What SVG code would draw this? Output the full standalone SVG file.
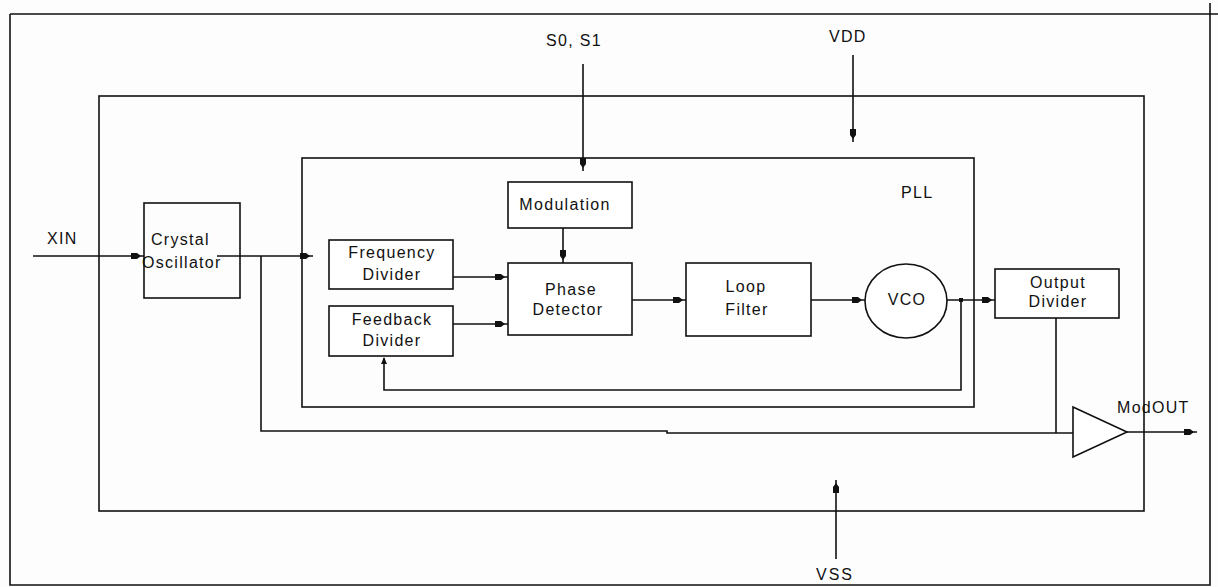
<svg xmlns="http://www.w3.org/2000/svg" width="1218" height="587" viewBox="0 0 1218 587">
<defs>
<style>
.ln{fill:none;stroke:#111;stroke-width:1.6}
.bx{fill:#fff;stroke:#111;stroke-width:1.6}
.t{font-family:"Liberation Sans",Arial,sans-serif;font-size:16px;fill:#111;letter-spacing:1.3px}
.m{text-anchor:middle}
</style>
<marker id="ah" markerWidth="16" markerHeight="8" refX="13" refY="4" orient="auto" markerUnits="userSpaceOnUse">
<path d="M0,1 L6,1 L10,4 L6,7 L0,7 Z" fill="#111"/>
</marker>
</defs>
<rect width="1218" height="587" fill="#fdfdfd"/>
<g id="frame">
<path class="ln" d="M10,14 H1218 M1210,3 V585 H10 V14"/>
</g>
<g id="chip"><rect class="ln" x="99" y="96" width="1045" height="415"/></g>
<g id="pll"><rect class="ln" x="302" y="158" width="672" height="249"/>
<text class="t" x="901" y="198">PLL</text></g>
<g id="connectors">
<path class="ln" marker-end="url(#ah)" d="M33,256 H144"/>
<path class="ln" marker-end="url(#ah)" d="M217,256 H313"/>
<path class="ln" d="M261,256 V431 H667 V433 H1073"/>
<path class="ln" marker-end="url(#ah)" d="M583,64 V171"/>
<path class="ln" marker-end="url(#ah)" d="M853,55 V142"/>
<path class="ln" marker-end="url(#ah)" d="M836,559 V480"/>
<path class="ln" marker-end="url(#ah)" d="M563,228 V263"/>
<path class="ln" marker-end="url(#ah)" d="M453,277 H508"/>
<path class="ln" marker-end="url(#ah)" d="M453,324 H508"/>
<path class="ln" marker-end="url(#ah)" d="M632,300 H686"/>
<path class="ln" marker-end="url(#ah)" d="M811,300 H865"/>
<path class="ln" marker-end="url(#ah)" d="M947,300 H995"/>
<path class="ln" d="M961,300 V390 H384 V358"/>
<rect x="959" y="298" width="4" height="4" fill="#111"/>
<path d="M381,364 L384,357 L387,364 Z" fill="#111"/>
<path class="ln" d="M1056,318 V433"/>
<path class="ln" marker-end="url(#ah)" d="M1127,432 H1197"/>
</g>
<g id="xin"><text class="t" x="47" y="243.5">XIN</text></g>
<g id="s0s1"><text class="t" x="546" y="46">S0, S1</text></g>
<g id="vdd"><text class="t" x="829" y="42">VDD</text></g>
<g id="vss"><text class="t" x="816" y="580" style="letter-spacing:2px">VSS</text></g>
<g id="modout"><text class="t" x="1117" y="413">ModOUT</text></g>
<g id="crystal"><rect class="ln" x="144" y="203" width="96" height="95"/>
<text class="t" x="151" y="245">Crystal</text><text class="t" x="142" y="268">Oscillator</text></g>
<g id="freqdiv"><rect class="bx" x="329" y="240" width="124" height="49"/>
<text class="t m" x="392" y="258">Frequency</text><text class="t m" x="392" y="280">Divider</text></g>
<g id="fbdiv"><rect class="bx" x="329" y="306" width="124" height="50"/>
<text class="t m" x="392" y="325">Feedback</text><text class="t m" x="392" y="346">Divider</text></g>
<g id="modulation"><rect class="bx" x="508" y="182" width="124" height="46"/>
<text class="t m" x="565" y="210">Modulation</text></g>
<g id="phasedet"><rect class="bx" x="508" y="263" width="124" height="72"/>
<text class="t m" x="571" y="295">Phase</text><text class="t m" x="568" y="315">Detector</text></g>
<g id="loopfilter"><rect class="bx" x="686" y="263" width="125" height="73"/>
<text class="t m" x="746" y="292">Loop</text><text class="t m" x="747" y="315">Filter</text></g>
<g id="vco"><ellipse class="bx" cx="906" cy="301" rx="41" ry="37"/>
<text class="t m" x="907" y="305">VCO</text></g>
<g id="outdiv"><rect class="bx" x="995" y="269" width="124" height="49"/>
<text class="t m" x="1058" y="288">Output</text><text class="t m" x="1058" y="307">Divider</text></g>
<g id="buffer"><path class="bx" d="M1073,407 L1127,432 L1073,457 Z"/></g>
</svg>
